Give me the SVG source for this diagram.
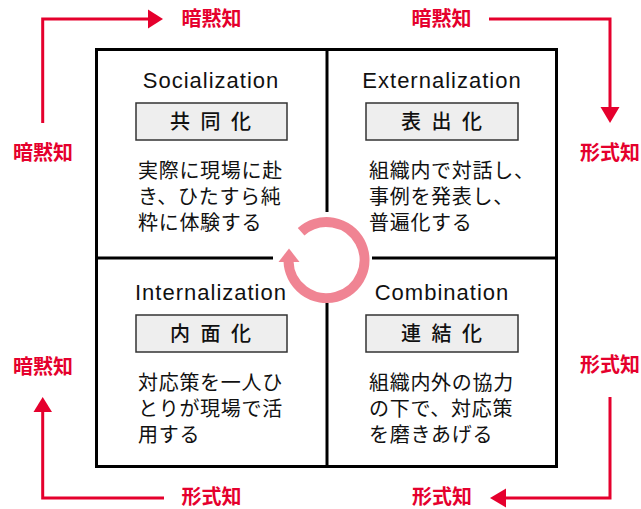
<svg xmlns="http://www.w3.org/2000/svg" width="641" height="509" viewBox="0 0 641 509">
<style>
.frame{fill:none;stroke:#000;stroke-width:3}
.div{stroke:#000;stroke-width:3;fill:none}
.lbox{fill:#eeeeee;stroke:#333;stroke-width:1.5}
.title{font-family:"Liberation Sans",Arial,sans-serif;font-size:22px;letter-spacing:1px;fill:#111;text-anchor:middle}
.lab{font-family:"Noto Sans CJK JP",sans-serif;font-size:20px;font-weight:500;fill:#111;text-anchor:middle}
.body{font-family:"Noto Sans CJK JP",sans-serif;font-size:20px;letter-spacing:0.7px;fill:#111}
.red{font-family:"Noto Sans CJK JP",sans-serif;font-size:20px;font-weight:bold;fill:#e5002d;text-anchor:middle}
.rl{fill:none;stroke:#e5002d;stroke-width:3}
.rh{fill:#e5002d}
</style>
<rect class="frame" x="96.5" y="49.5" width="460" height="417"/>
<g id="connectors">
<line class="div" x1="95" y1="258" x2="273" y2="258"/>
<line class="div" x1="372" y1="258" x2="558" y2="258"/>
<line class="div" x1="327" y1="48" x2="327" y2="212"/>
<line class="div" x1="327" y1="303" x2="327" y2="468"/>
<path d="M301.1,231.8 A38,38 0 1 1 288.5,261" fill="none" stroke="#f08493" stroke-width="10"/>
<polygon points="289,248.5 278.5,262 299.5,262" fill="#f08493"/>
<polyline class="rl" points="42.7,123 42.7,19 149,19"/>
<polygon class="rh" points="148,9.5 163,19 148,28.5"/>
<polyline class="rl" points="489,19 610,19 610,108"/>
<polygon class="rh" points="600.5,107 619.5,107 610,123"/>
<polyline class="rl" points="610,397 610,498 505,498"/>
<polygon class="rh" points="506,488.5 506,507.5 490,498"/>
<polyline class="rl" points="164,498 42.7,498 42.7,411"/>
<polygon class="rh" points="33.5,412 52,412 42.7,397"/>
</g>
<g id="labels-red">
<text class="red" x="211.5" y="26">暗黙知</text>
<text class="red" x="441.5" y="26">暗黙知</text>
<text class="red" x="43" y="160">暗黙知</text>
<text class="red" x="610" y="160">形式知</text>
<text class="red" x="43" y="374">暗黙知</text>
<text class="red" x="610" y="372">形式知</text>
<text class="red" x="211.5" y="504">形式知</text>
<text class="red" x="442" y="504">形式知</text>
</g>
<g id="socialization">
<text class="title" x="211" y="88">Socialization</text>
<rect class="lbox" x="136" y="103" width="151" height="37"/>
<text class="lab" x="180 210.5 241" y="129">共同化</text>
<text class="body" x="138" y="178">実際に現場に赴</text>
<text class="body" x="138" y="204">き、ひたすら純</text>
<text class="body" x="138" y="230">粋に体験する</text>
</g>
<g id="externalization">
<text class="title" x="442" y="88">Externalization</text>
<rect class="lbox" x="366" y="103" width="152" height="37"/>
<text class="lab" x="411 441.5 472" y="129">表出化</text>
<text class="body" x="369" y="178">組織内で対話し、</text>
<text class="body" x="369" y="204">事例を発表し、</text>
<text class="body" x="369" y="230">普遍化する</text>
</g>
<g id="internalization">
<text class="title" x="211" y="300">Internalization</text>
<rect class="lbox" x="136" y="315" width="151" height="37"/>
<text class="lab" x="180 210.5 241" y="341">内面化</text>
<text class="body" x="138" y="390">対応策を一人ひ</text>
<text class="body" x="138" y="416">とりが現場で活</text>
<text class="body" x="138" y="442">用する</text>
</g>
<g id="combination">
<text class="title" x="442" y="300">Combination</text>
<rect class="lbox" x="366" y="315" width="152" height="37"/>
<text class="lab" x="411 441.5 472" y="341">連結化</text>
<text class="body" x="369" y="390">組織内外の協力</text>
<text class="body" x="369" y="416">の下で、対応策</text>
<text class="body" x="369" y="442">を磨きあげる</text>
</g>
</svg>
